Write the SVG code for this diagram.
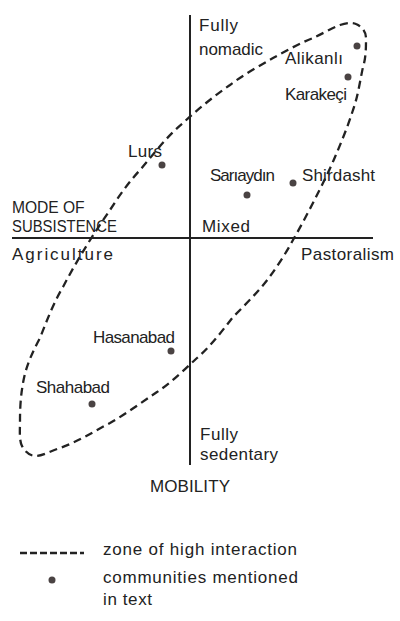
<svg xmlns="http://www.w3.org/2000/svg" width="400" height="621" viewBox="0 0 400 621">
<style>
text{font-family:"Liberation Sans",Arial,sans-serif;font-size:17px;fill:#222;}
.axis{stroke:#222;stroke-width:2;fill:none;}
.zone{stroke:#222;stroke-width:2.3;fill:none;stroke-dasharray:8 5;}
.dot{fill:#4a4343;}
</style>
<rect width="400" height="621" fill="#fff"/>
<g id="connectors">
<line class="axis" x1="190" y1="15" x2="190" y2="465"/>
<line class="axis" x1="12" y1="238" x2="373" y2="238"/>
<path id="zone" class="zone" d="M340,25 C346,23 352,22 356,24 C361,26 366,31 366,38 C366,47 366,58 363,67 C360,81 358,96 353,110 C348,126 341,143 335,157 C330,169 324,181 318,193 C310,209 301,226 293,240 C286,253 277,267 268,279 C258,292 245,305 233,317 C222,331 211,346 197,358 C185,369 171,383 157,392 C142,402 126,414 110,423 C93,432 77,442 60,448 C51,451 42,456 36,456 C30,456 25,452 22,446 C19,440 20,430 20,420 C20,406 21,392 24,378 C27,364 33,351 40,338 C47,320 54,302 63,287 C77,260 94,233 110,210 C119,196 128,183 140,170 C153,155 167,136 183,123 C197,110 214,96 230,85 C243,75 259,66 273,58 C286,51 300,43 313,38 C322,34 332,28 340,25 Z"/>
</g>
<g id="axis-labels">
<text x="199" y="31" textLength="39" lengthAdjust="spacing">Fully</text>
<text x="199" y="55" textLength="64" lengthAdjust="spacing">nomadic</text>
<text transform="translate(12,213) scale(0.92,1)" textLength="79" lengthAdjust="spacing">MODE OF</text>
<text transform="translate(12,232) scale(0.875,1)" textLength="120" lengthAdjust="spacing">SUBSISTENCE</text>
<text x="202" y="232" textLength="48" lengthAdjust="spacing">Mixed</text>
<text x="12" y="260" textLength="101" lengthAdjust="spacing">Agriculture</text>
<text x="301" y="260" textLength="93" lengthAdjust="spacing">Pastoralism</text>
<text x="200" y="440" textLength="38" lengthAdjust="spacing">Fully</text>
<text x="200" y="460" textLength="78" lengthAdjust="spacing">sedentary</text>
<text x="150" y="492" textLength="80" lengthAdjust="spacing">MOBILITY</text>
</g>
<g id="alikanli"><circle class="dot" cx="357" cy="46" r="3.5"/><text x="285" y="64" textLength="58" lengthAdjust="spacing">Alikanlı</text></g>
<g id="karakeci"><circle class="dot" cx="348" cy="77" r="3.5"/><text x="285" y="100" textLength="62" lengthAdjust="spacing">Karakeçi</text></g>
<g id="lurs"><circle class="dot" cx="162" cy="165" r="3.5"/><text x="128" y="157" textLength="34" lengthAdjust="spacing">Lurs</text></g>
<g id="sariaydin"><circle class="dot" cx="247" cy="195" r="3.5"/><text x="210" y="181" textLength="65" lengthAdjust="spacing">Sarıaydın</text></g>
<g id="shirdasht"><circle class="dot" cx="293" cy="183" r="3.5"/><text x="302" y="181" textLength="73" lengthAdjust="spacing">Shirdasht</text></g>
<g id="hasanabad"><circle class="dot" cx="171" cy="351" r="3.5"/><text x="93" y="343" textLength="82" lengthAdjust="spacing">Hasanabad</text></g>
<g id="shahabad"><circle class="dot" cx="92" cy="404" r="3.5"/><text x="36" y="393" textLength="74" lengthAdjust="spacing">Shahabad</text></g>
<g id="legend">
<line class="zone" x1="20" y1="553" x2="84" y2="553" style="stroke-dasharray:7 3"/>
<text x="103" y="555" textLength="194" lengthAdjust="spacing">zone of high interaction</text>
<circle class="dot" cx="52" cy="580" r="3.5"/>
<text x="103" y="583" textLength="195" lengthAdjust="spacing">communities mentioned</text>
<text x="103" y="605" textLength="49" lengthAdjust="spacing">in text</text>
</g>
</svg>
